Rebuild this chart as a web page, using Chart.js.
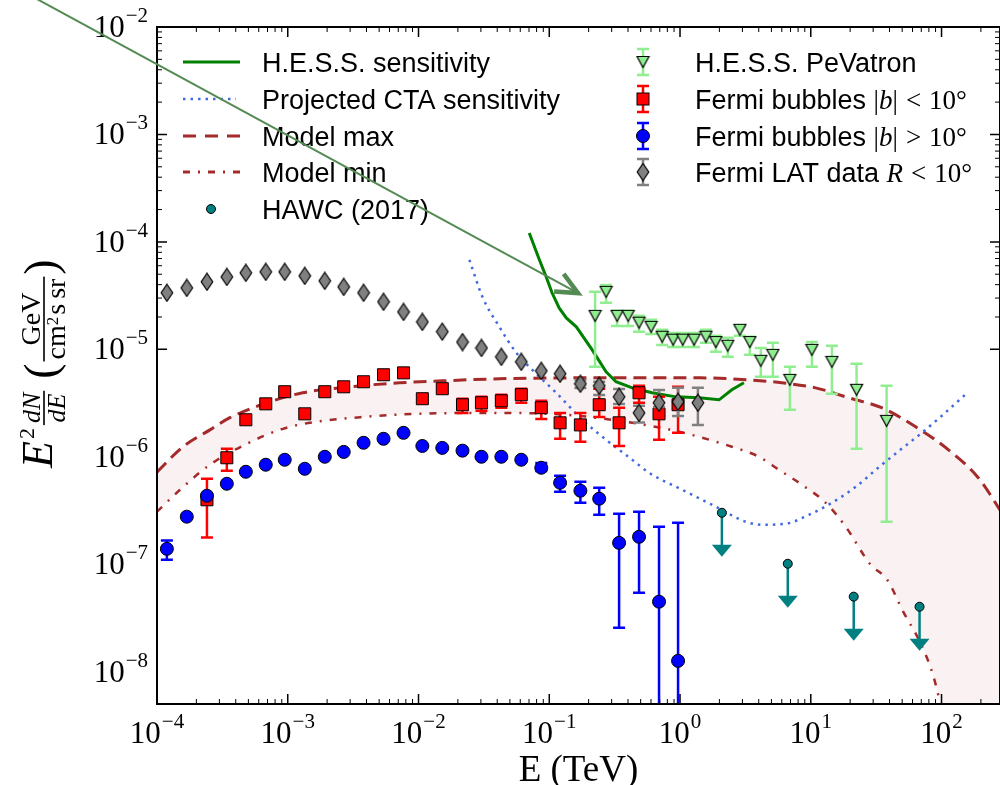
<!DOCTYPE html>
<html>
<head>
<meta charset="utf-8">
<title>Galactic centre gamma-ray spectrum</title>
<script src="https://cdn.jsdelivr.net/npm/chart.js@4.4.1/dist/chart.umd.min.js"></script>
<style>
  html, body { margin: 0; padding: 0; background: #fff; }
  canvas { display: block; }
</style>
</head>
<body>
<canvas id="sed" width="1000" height="785"></canvas>
<script>
// energies in TeV, fluxes E^2 dN/dE in GeV cm^-2 s^-1 sr^-1

// H.E.S.S. sensitivity
const hessSensE = [0.0703, 0.084, 0.0948, 0.105, 0.119, 0.135, 0.161, 0.213, 0.272, 0.324, 0.431, 0.611, 0.931, 1.40, 1.99, 2.49, 3.08];
const hessSensF = [1.21e-4, 6.81e-5, 4.72e-5, 3.36e-5, 2.43e-5, 1.96e-5, 1.62e-5, 9.89e-6, 6.18e-6, 4.99e-6, 4.38e-6, 3.94e-6, 3.61e-6, 3.54e-6, 3.39e-6, 4.20e-6, 4.88e-6];

// projected CTA sensitivity
const ctaE = [0.0245, 0.0308, 0.0415, 0.0560, 0.0741, 0.113, 0.179, 0.272, 0.431, 0.579, 1.04, 1.88, 3.19, 4.23, 6.44, 9.66, 14.5, 22.1, 34.0, 48.4, 68.9, 97.9, 160];
const ctaF = [6.81e-5, 3.08e-5, 1.62e-5, 9.27e-6, 6.44e-6, 3.94e-6, 2.21e-6, 1.44e-6, 9.38e-7, 7.10e-7, 4.93e-7, 3.43e-7, 2.48e-7, 2.33e-7, 2.38e-7, 2.88e-7, 3.73e-7, 5.26e-7, 8.21e-7, 1.16e-6, 1.63e-6, 2.34e-6, 4.01e-6];

// model envelope
const modelMaxE = [1e-4, 1.58e-4, 2.54e-4, 3.61e-4, 6.92e-4, 1.30e-3, 2.97e-3, 7.16e-3, 0.0152, 0.0415, 0.241, 1.40, 3.37, 6.01, 10.9, 19.5, 34.8, 63.4, 113, 191, 300];
const modelMaxF = [7.2e-7, 1.24e-6, 1.78e-6, 2.31e-6, 3.18e-6, 3.94e-6, 4.48e-6, 4.88e-6, 5.09e-6, 5.32e-6, 5.43e-6, 5.43e-6, 5.20e-6, 4.88e-6, 4.38e-6, 3.54e-6, 2.86e-6, 1.90e-6, 1.16e-6, 6.38e-7, 2.8e-7];
const modelMinE = [1e-4, 1.50e-4, 2.54e-4, 4.86e-4, 9.17e-4, 1.66e-3, 4.01e-3, 9.66e-3, 0.0415, 0.135, 0.431, 0.982, 2.49, 4.01, 5.70, 8.53, 13.0, 18.5, 28.5, 38.5, 51.0, 68.9, 86.5, 97.9, 300];
const modelMinF = [3.08e-7, 4.93e-7, 8.43e-7, 1.32e-6, 1.82e-6, 2.12e-6, 2.36e-6, 2.51e-6, 2.56e-6, 2.46e-6, 2.07e-6, 1.71e-6, 1.24e-6, 1.00e-6, 7.57e-7, 5.50e-7, 3.73e-7, 2.23e-7, 1.0e-7, 7.13e-8, 3.60e-8, 1.85e-8, 9.12e-9, 4.90e-9, 1e-12];

// HAWC (2017) upper limits
const hawcE = [2.09, 6.67, 21.3, 67.9];
const hawcF = [3.01e-7, 1.01e-7, 4.99e-8, 4.02e-8];

// H.E.S.S. PeVatron spectrum
const pevE = [0.224, 0.272, 0.330, 0.401, 0.486, 0.601, 0.730, 0.885, 1.05, 1.28, 1.58, 1.88, 2.32, 2.87, 3.42, 4.15, 5.13, 6.92, 10.2, 14.5, 22.4, 38.0];
const pevF = [2.05e-5, 3.43e-5, 2.05e-5, 2.05e-5, 1.77e-5, 1.62e-5, 1.31e-5, 1.23e-5, 1.23e-5, 1.23e-5, 1.31e-5, 1.17e-5, 1.08e-5, 1.52e-5, 1.17e-5, 7.82e-6, 8.89e-6, 5.20e-6, 9.89e-6, 7.65e-6, 4.20e-6, 2.16e-6];
const pevLo = [6.87e-6, 2.71e-5, 1.65e-5, 1.65e-5, 1.46e-5, 1.39e-5, 1.10e-5, 1.05e-5, 1.05e-5, 1.05e-5, 1.15e-5, 9.48e-6, 8.51e-6, 1.34e-5, 8.89e-6, 5.55e-6, 5.55e-6, 2.74e-6, 6.87e-6, 3.86e-6, 1.19e-6, 2.48e-7];
const pevHi = [3.43e-5, 3.98e-5, 2.28e-5, 2.28e-5, 2.05e-5, 1.88e-5, 1.52e-5, 1.42e-5, 1.42e-5, 1.42e-5, 1.52e-5, 1.34e-5, 1.28e-5, 1.65e-5, 1.31e-5, 1.03e-5, 1.15e-5, 6.87e-6, 1.17e-5, 1.08e-5, 7.33e-6, 4.57e-6];

// Fermi bubbles, |b| < 10 deg
const fbInE = [2.41e-4, 3.42e-4, 4.78e-4, 6.79e-4, 9.48e-4, 1.35e-3, 1.92e-3, 2.68e-3, 3.80e-3, 5.40e-3, 7.68e-3, 1.07e-2, 1.52e-2, 2.17e-2, 3.03e-2, 4.30e-2, 6.11e-2, 8.69e-2, 0.121, 0.173, 0.241, 0.342, 0.486, 0.691, 0.966];
const fbInF = [3.98e-7, 9.79e-7, 2.21e-6, 3.11e-6, 4.03e-6, 2.51e-6, 4.03e-6, 4.48e-6, 4.99e-6, 5.80e-6, 6.04e-6, 3.47e-6, 4.30e-6, 3.05e-6, 3.18e-6, 3.32e-6, 3.78e-6, 2.86e-6, 2.07e-6, 1.98e-6, 3.05e-6, 2.07e-6, 3.94e-6, 2.51e-6, 3.05e-6];
const fbInLo = [1.77e-7, 7.41e-7, null, null, null, null, null, null, null, null, null, null, null, 2.56e-6, 2.68e-6, 2.86e-6, 3.18e-6, 2.25e-6, 1.47e-6, 1.38e-6, 2.35e-6, 1.26e-6, 3.18e-6, 1.44e-6, 1.67e-6];
const fbInHi = [6.24e-7, 1.19e-6, null, null, null, null, null, null, null, null, null, null, null, 3.47e-6, 3.61e-6, 3.78e-6, 4.30e-6, 3.32e-6, 2.56e-6, 2.56e-6, 4.30e-6, 2.86e-6, 4.57e-6, 3.61e-6, 4.48e-6];

// Fermi bubbles, |b| > 10 deg
const fbOutE = [1.19e-4, 1.69e-4, 2.41e-4, 3.42e-4, 4.78e-4, 6.79e-4, 9.48e-4, 1.35e-3, 1.92e-3, 2.68e-3, 3.80e-3, 5.40e-3, 7.68e-3, 1.07e-2, 1.52e-2, 2.17e-2, 3.03e-2, 4.30e-2, 6.11e-2, 8.69e-2, 0.121, 0.173, 0.241, 0.342, 0.486, 0.691, 0.966];
const fbOutF = [1.39e-7, 2.77e-7, 4.34e-7, 5.61e-7, 7.25e-7, 8.43e-7, 9.38e-7, 7.73e-7, 1.00e-6, 1.11e-6, 1.35e-6, 1.47e-6, 1.67e-6, 1.26e-6, 1.21e-6, 1.14e-6, 1.00e-6, 1.00e-6, 9.38e-7, 7.90e-7, 5.73e-7, 4.83e-7, 4.07e-7, 1.58e-7, 1.80e-7, 4.48e-8, 1.26e-8];
const fbOutLo = [1.10e-7, null, null, null, null, null, null, null, null, null, null, null, null, null, null, null, null, null, null, 7.37e-7, 4.72e-7, 3.73e-7, 2.88e-7, 2.56e-8, 5.43e-8, 1e-9, 1e-9];
const fbOutHi = [1.66e-7, null, null, null, null, null, null, null, null, null, null, null, null, null, null, null, null, null, null, 8.75e-7, 6.65e-7, 5.85e-7, 5.15e-7, 2.95e-7, 3.08e-7, 2.23e-7, 2.43e-7];

// Fermi LAT data, R < 10 deg
const latE = [1.19e-4, 1.69e-4, 2.41e-4, 3.42e-4, 4.78e-4, 6.79e-4, 9.48e-4, 1.35e-3, 1.92e-3, 2.68e-3, 3.80e-3, 5.40e-3, 7.68e-3, 1.07e-2, 1.52e-2, 2.17e-2, 3.03e-2, 4.30e-2, 6.11e-2, 8.69e-2, 0.121, 0.173, 0.241, 0.342, 0.486, 0.691, 0.966, 1.37];
const latF = [3.36e-5, 3.73e-5, 4.25e-5, 4.72e-5, 5.15e-5, 5.26e-5, 5.26e-5, 4.83e-5, 4.34e-5, 3.81e-5, 3.36e-5, 2.77e-5, 2.23e-5, 1.80e-5, 1.46e-5, 1.17e-5, 1.03e-5, 8.51e-6, 7.65e-6, 6.31e-6, 5.92e-6, 4.78e-6, 4.57e-6, 3.61e-6, 2.56e-6, 3.18e-6, 3.25e-6, 3.18e-6];
const latLo = [null, null, null, null, null, null, null, null, null, null, null, null, null, null, null, null, null, null, null, null, null, 4.36e-6, 3.76e-6, 3.10e-6, 2.08e-6, 2.90e-6, 2.40e-6, 1.98e-6];
const latHi = [null, null, null, null, null, null, null, null, null, null, null, null, null, null, null, null, null, null, null, null, null, 5.19e-6, 5.00e-6, 4.28e-6, 2.99e-6, 4.19e-6, 4.40e-6, 4.40e-6];

// annotation arrow pointing at the PeVatron points (E, flux)
const arrowTail = [6.3e-6, 2.8e-2];
const arrowTip = [0.166, 3.34e-5];

// decade exponents for tick labels
const xTickExp = [-4, -3, -2, -1, 0, 1, 2];
const yTickExp = [-2, -3, -4, -5, -6, -7, -8];

const X_MIN = 1e-4, X_MAX = 280, Y_MIN = 5e-9, Y_MAX = 1e-2;

const SERIF = "'Liberation Serif', 'DejaVu Serif', serif";
const SANS = "'Liberation Sans', Arial, sans-serif";
const LIGHTGREEN = '#90ee90', TEAL = '#008080', BROWN = '#a52a2a';

const pts = (xs, ys) => xs.map((v, i) => ({ x: v, y: ys[i] }));

function markerCanvas(w, h, draw) {
  const c = document.createElement('canvas');
  c.width = w; c.height = h;
  draw(c.getContext('2d'));
  return c;
}

const triDown = markerCanvas(15, 14, g => {
  g.beginPath();
  g.moveTo(1.5, 1.5); g.lineTo(13.5, 1.5); g.lineTo(7.5, 12.5); g.closePath();
  g.fillStyle = LIGHTGREEN; g.fill();
  g.lineWidth = 1.2; g.strokeStyle = '#000'; g.stroke();
});

const thinDiamond = markerCanvas(14, 19, g => {
  g.beginPath();
  g.moveTo(7, 1); g.lineTo(12.8, 9.5); g.lineTo(7, 18); g.lineTo(1.2, 9.5); g.closePath();
  g.fillStyle = '#808080'; g.fill();
  g.lineWidth = 1.2; g.strokeStyle = '#000'; g.stroke();
});

// vertical error bars with caps, drawn under each dataset's markers
const errorBars = {
  id: 'errorBars',
  beforeDatasetDraw(chart, args) {
    const ds = chart.data.datasets[args.index];
    if (!ds.errLo) return;
    const { ctx, chartArea: a, scales: { x, y } } = chart;
    ctx.save();
    ctx.beginPath();
    ctx.rect(a.left, a.top, a.right - a.left, a.bottom - a.top);
    ctx.clip();
    ctx.strokeStyle = ds.errColor;
    ctx.lineWidth = 2.5;
    ds.data.forEach((p, i) => {
      const lo = ds.errLo[i], hi = ds.errHi[i];
      if (lo == null) return;
      const px = x.getPixelForValue(p.x);
      const y0 = y.getPixelForValue(lo), y1 = y.getPixelForValue(hi);
      ctx.beginPath();
      ctx.moveTo(px, y0); ctx.lineTo(px, y1);
      ctx.moveTo(px - 6, y0); ctx.lineTo(px + 6, y0);
      ctx.moveTo(px - 6, y1); ctx.lineTo(px + 6, y1);
      ctx.stroke();
    });
    ctx.restore();
  }
};

// downward arrows for upper limits
const upperLimits = {
  id: 'upperLimits',
  beforeDatasetDraw(chart, args) {
    const ds = chart.data.datasets[args.index];
    if (!ds.upperLimit) return;
    const { ctx, scales: { x, y } } = chart;
    ctx.save();
    ctx.strokeStyle = ds.upperLimit;
    ctx.fillStyle = ds.upperLimit;
    ctx.lineWidth = 2.5;
    ds.data.forEach(p => {
      const px = x.getPixelForValue(p.x), py = y.getPixelForValue(p.y);
      const tip = py + 44;
      ctx.beginPath();
      ctx.moveTo(px, py); ctx.lineTo(px, tip - 10);
      ctx.stroke();
      ctx.beginPath();
      ctx.moveTo(px - 10, tip - 12); ctx.lineTo(px + 10, tip - 12); ctx.lineTo(px, tip);
      ctx.closePath();
      ctx.fill();
    });
    ctx.restore();
  }
};

function supLabel(ctx, exp, x, y, align) {
  const base = '10', sup = (exp < 0 ? '\u2212' : '') + Math.abs(exp);
  ctx.font = '31px ' + SERIF;
  const wb = ctx.measureText(base).width;
  ctx.font = '21px ' + SERIF;
  const ws = ctx.measureText(sup).width;
  const x0 = align === 'right' ? x - wb - ws - 1 : x - (wb + ws + 1) / 2;
  ctx.font = '31px ' + SERIF;
  ctx.fillText(base, x0, y + 10);
  ctx.font = '21px ' + SERIF;
  ctx.fillText(sup, x0 + wb + 1, y - 5);
}

function rich(ctx, x, y, parts) {
  for (const p of parts) {
    ctx.font = p.f;
    x += p.pre || 0;
    ctx.fillText(p.t, x, y + (p.dy || 0));
    x += ctx.measureText(p.t).width + (p.post || 0);
  }
  return x;
}

function width(ctx, parts) {
  let w = 0;
  for (const p of parts) {
    ctx.font = p.f;
    w += (p.pre || 0) + ctx.measureText(p.t).width + (p.post || 0);
  }
  return w;
}

// stacked fraction in rotated label coordinates, bar on v = 0
function frac(ctx, u, num, den) {
  const wn = width(ctx, num), wd = width(ctx, den);
  const w = Math.max(wn, wd) + 4;
  rich(ctx, u + (w - wn) / 2, -4, num);
  rich(ctx, u + (w - wd) / 2, 21, den);
  ctx.fillRect(u, -0.8, w, 1.6);
  return u + w;
}

function drawYTitle(ctx) {
  ctx.save();
  ctx.translate(44, 468);
  ctx.rotate(-Math.PI / 2);
  ctx.fillStyle = '#000';
  let u = rich(ctx, 0, 8, [{ t: 'E', f: 'italic 44px ' + SERIF, post: 2 }]);
  u = rich(ctx, u, -10, [{ t: '2', f: '22px ' + SERIF, post: 3 }]);
  const it = 'italic 26px ' + SERIF;
  u = frac(ctx, u, [{ t: 'dN', f: it }], [{ t: 'dE', f: it }]);
  u += 12;
  u = rich(ctx, u, 12, [{ t: '(', f: '46px ' + SERIF, post: 2 }]);
  const rm = '28px ' + SERIF;
  u = frac(ctx, u, [{ t: 'GeV', f: rm }],
    [{ t: 'cm', f: rm }, { t: '2', f: '17px ' + SERIF, dy: -7, post: 2 }, { t: 's', f: rm, post: 5 }, { t: 'sr', f: rm }]);
  rich(ctx, u + 2, 12, [{ t: ')', f: '46px ' + SERIF }]);
  ctx.restore();
}

function sampleLine(ctx, y, color, lw, dash, x1) {
  ctx.save();
  ctx.strokeStyle = color; ctx.lineWidth = lw; ctx.setLineDash(dash);
  ctx.beginPath(); ctx.moveTo(183, y); ctx.lineTo(x1 || 240, y); ctx.stroke();
  ctx.restore();
}

function sampleBar(ctx, x, y, color) {
  ctx.save();
  ctx.strokeStyle = color; ctx.lineWidth = 2.5;
  ctx.beginPath();
  ctx.moveTo(x, y - 13); ctx.lineTo(x, y + 13);
  ctx.moveTo(x - 6, y - 13); ctx.lineTo(x + 6, y - 13);
  ctx.moveTo(x - 6, y + 13); ctx.lineTo(x + 6, y + 13);
  ctx.stroke();
  ctx.restore();
}

function circle(ctx, x, y, r, fill) {
  ctx.beginPath(); ctx.arc(x, y, r, 0, Math.PI * 2);
  ctx.fillStyle = fill; ctx.fill();
  ctx.lineWidth = 1; ctx.strokeStyle = '#000'; ctx.stroke();
}

function drawLegend(ctx) {
  const rowsL = [62, 99, 136, 172, 209];
  const rowsR = [62, 99, 136, 172];
  const sans = '27px ' + SANS;
  const m = '27px ' + SERIF, mi = 'italic 27px ' + SERIF;

  sampleLine(ctx, rowsL[0], '#008000', 3, []);
  sampleLine(ctx, rowsL[1], '#4169e1', 2.5, [2.5, 5], 236);
  sampleLine(ctx, rowsL[2], BROWN, 3, [13, 9]);
  sampleLine(ctx, rowsL[3], BROWN, 3, [7, 8, 2, 8]);
  circle(ctx, 211, rowsL[4], 4.5, TEAL);

  ctx.fillStyle = '#000';
  ['H.E.S.S. sensitivity', 'Projected CTA sensitivity', 'Model max', 'Model min', 'HAWC (2017)']
    .forEach((t, i) => rich(ctx, 262, rowsL[i] + 9.5, [{ t, f: sans }]));

  const mx = 643;
  sampleBar(ctx, mx, rowsR[0], LIGHTGREEN);
  ctx.drawImage(triDown, mx - triDown.width / 2, rowsR[0] - triDown.height / 2);
  sampleBar(ctx, mx, rowsR[1], '#ff0000');
  ctx.fillStyle = '#ff0000'; ctx.fillRect(mx - 6, rowsR[1] - 6, 12, 12);
  ctx.lineWidth = 1; ctx.strokeStyle = '#000'; ctx.strokeRect(mx - 6, rowsR[1] - 6, 12, 12);
  sampleBar(ctx, mx, rowsR[2], '#0000ff');
  circle(ctx, mx, rowsR[2], 6.5, '#0000ff');
  sampleBar(ctx, mx, rowsR[3], '#808080');
  ctx.drawImage(thinDiamond, mx - thinDiamond.width / 2, rowsR[3] - thinDiamond.height / 2);

  ctx.fillStyle = '#000';
  const tx = 695;
  rich(ctx, tx, rowsR[0] + 9.5, [{ t: 'H.E.S.S. PeVatron', f: sans }]);
  const bLimit = rel => [{ t: 'Fermi bubbles ', f: sans }, { t: '|', f: m }, { t: 'b', f: mi }, { t: '|', f: m },
    { t: rel, f: m, pre: 8, post: 8 }, { t: '10', f: m }, { t: '\u00b0', f: m }];
  rich(ctx, tx, rowsR[1] + 9.5, bLimit('<'));
  rich(ctx, tx, rowsR[2] + 9.5, bLimit('>'));
  rich(ctx, tx, rowsR[3] + 9.5, [{ t: 'Fermi LAT data ', f: sans }, { t: 'R', f: mi },
    { t: '<', f: m, pre: 8, post: 8 }, { t: '10', f: m }, { t: '\u00b0', f: m }]);
}

const frame = {
  id: 'frame',
  afterDraw(chart) {
    const { ctx, chartArea: a, scales: { x, y } } = chart;
    ctx.save();
    ctx.strokeStyle = '#000';

    // inward ticks on all four sides
    for (let d = -5; d <= 3; d++) {
      for (let k = 1; k <= 9; k++) {
        const v = k * Math.pow(10, d);
        const len = k === 1 ? 10 : 5;
        ctx.lineWidth = k === 1 ? 1.5 : 1;
        if (v >= X_MIN && v <= X_MAX) {
          const px = x.getPixelForValue(v);
          ctx.beginPath();
          ctx.moveTo(px, a.bottom); ctx.lineTo(px, a.bottom - len);
          ctx.moveTo(px, a.top); ctx.lineTo(px, a.top + len);
          ctx.stroke();
        }
        if (v >= Y_MIN && v <= Y_MAX) {
          const py = y.getPixelForValue(v);
          ctx.beginPath();
          ctx.moveTo(a.left, py); ctx.lineTo(a.left + len, py);
          ctx.moveTo(a.right, py); ctx.lineTo(a.right - len, py);
          ctx.stroke();
        }
      }
    }

    ctx.lineWidth = 2;
    ctx.strokeRect(a.left, a.top, a.right - a.left, a.bottom - a.top);

    ctx.fillStyle = '#000';
    ctx.textBaseline = 'alphabetic';
    xTickExp.forEach(e => supLabel(ctx, e, x.getPixelForValue(Math.pow(10, e)), 733, 'center'));
    yTickExp.forEach(e => supLabel(ctx, e, 148, y.getPixelForValue(Math.pow(10, e)), 'right'));

    ctx.font = '37px ' + SERIF;
    ctx.textAlign = 'center';
    ctx.fillText('E (TeV)', (a.left + a.right) / 2, 781);
    ctx.textAlign = 'left';

    drawYTitle(ctx);
    drawLegend(ctx);

    // annotation arrow, not clipped to the plot area
    const t0 = { x: x.getPixelForValue(arrowTail[0]), y: y.getPixelForValue(arrowTail[1]) };
    const t1 = { x: x.getPixelForValue(arrowTip[0]), y: y.getPixelForValue(arrowTip[1]) };
    ctx.strokeStyle = '#548b54';
    ctx.lineWidth = 2;
    ctx.beginPath(); ctx.moveTo(t0.x, t0.y); ctx.lineTo(t1.x, t1.y); ctx.stroke();
    const ang = Math.atan2(t1.y - t0.y, t1.x - t0.x) + Math.PI;
    ctx.lineWidth = 4.5;
    ctx.lineJoin = 'miter';
    ctx.beginPath();
    ctx.moveTo(t1.x + 24 * Math.cos(ang - 0.43), t1.y + 24 * Math.sin(ang - 0.43));
    ctx.lineTo(t1.x, t1.y);
    ctx.lineTo(t1.x + 24 * Math.cos(ang + 0.43), t1.y + 24 * Math.sin(ang + 0.43));
    ctx.stroke();
    ctx.restore();
  }
};

new Chart(document.getElementById('sed'), {
  type: 'scatter',
  data: {
    datasets: [
      {
        data: pts(hessSensE, hessSensF), showLine: true, order: 7,
        borderColor: '#008000', borderWidth: 3, pointRadius: 0, tension: 0
      },
      {
        data: pts(ctaE, ctaF), showLine: true, order: 8,
        borderColor: '#4169e1', borderWidth: 2.5, borderDash: [2.5, 5], pointRadius: 0,
        cubicInterpolationMode: 'monotone'
      },
      {
        data: pts(modelMaxE, modelMaxF), showLine: true, order: 10,
        borderColor: BROWN, borderWidth: 3, borderDash: [13, 7], pointRadius: 0,
        cubicInterpolationMode: 'monotone'
      },
      {
        data: pts(modelMinE, modelMinF), showLine: true, order: 11,
        borderColor: BROWN, borderWidth: 2.5, borderDash: [7, 8, 2, 8], pointRadius: 0,
        cubicInterpolationMode: 'monotone',
        fill: '-1', backgroundColor: 'rgba(165, 42, 42, 0.06)'
      },
      {
        data: pts(hawcE, hawcF), order: 6, upperLimit: TEAL,
        pointStyle: 'circle', pointRadius: 4.5, backgroundColor: TEAL,
        borderColor: '#000', borderWidth: 1
      },
      {
        data: pts(pevE, pevF), order: 5, errLo: pevLo, errHi: pevHi, errColor: LIGHTGREEN,
        pointStyle: triDown
      },
      {
        data: pts(fbInE, fbInF), order: 4, errLo: fbInLo, errHi: fbInHi, errColor: '#ff0000',
        pointStyle: 'rect', pointRadius: 8.5, backgroundColor: '#ff0000',
        borderColor: '#000', borderWidth: 1
      },
      {
        data: pts(fbOutE, fbOutF), order: 3, errLo: fbOutLo, errHi: fbOutHi, errColor: '#0000ff',
        pointStyle: 'circle', pointRadius: 6.5, backgroundColor: '#0000ff',
        borderColor: '#000', borderWidth: 1
      },
      {
        data: pts(latE, latF), order: 2, errLo: latLo, errHi: latHi, errColor: '#808080',
        pointStyle: thinDiamond
      }
    ]
  },
  options: {
    responsive: false,
    animation: false,
    devicePixelRatio: 1,
    layout: { autoPadding: false, padding: { left: 157, top: 27, right: 0, bottom: 81 } },
    plugins: { legend: { display: false }, tooltip: { enabled: false } },
    scales: {
      x: { type: 'logarithmic', min: X_MIN, max: X_MAX, display: false },
      y: { type: 'logarithmic', min: Y_MIN, max: Y_MAX, display: false }
    }
  },
  plugins: [errorBars, upperLimits, frame]
});
</script>
</body>
</html>
